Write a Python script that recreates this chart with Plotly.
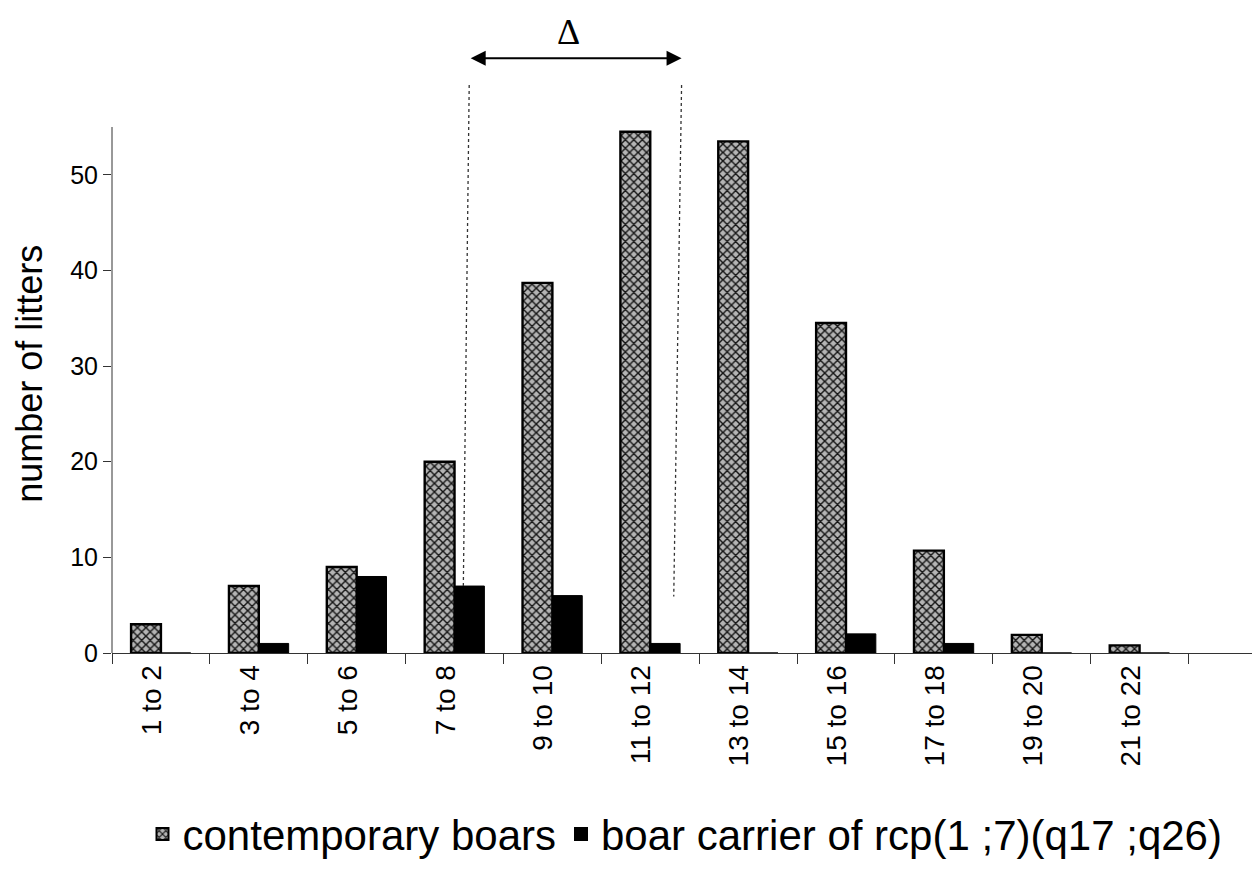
import plotly.graph_objects as go

categories = ["1 to 2", "3 to 4", "5 to 6", "7 to 8", "9 to 10", "11 to 12",
              "13 to 14", "15 to 16", "17 to 18", "19 to 20", "21 to 22"]
contemporary = [3, 7, 9, 20, 38.7, 54.5, 53.5, 34.5, 10.7, 1.9, 0.8]
carrier = [0, 1, 8, 7, 6, 1, 0, 2, 1, 0, 0]
y_ticks = [0, 10, 20, 30, 40, 50]

X_RANGE = [-0.5, 11.21]
Y_RANGE = [0, 55]

FONT = "Arial, Liberation Sans, sans-serif"

fig = go.Figure()
fig.add_trace(go.Bar(
    x=categories, y=contemporary, name="contemporary boars",
    marker=dict(color="#b0b0b0",
                line=dict(color="black", width=2.4),
                pattern=dict(shape="x", fgcolor="#151515", bgcolor="#b4b4b4",
                             size=6, solidity=0.42, fillmode="replace")),
))
fig.add_trace(go.Bar(
    x=categories, y=carrier, name="boar carrier of rcp(1 ;7)(q17 ;q26)",
    marker=dict(color="black", line=dict(color="black", width=1)),
))


def xp(v):
    return (v - X_RANGE[0]) / (X_RANGE[1] - X_RANGE[0])


def yp(v):
    return (v - Y_RANGE[0]) / (Y_RANGE[1] - Y_RANGE[0])


W, H = 1252, 862
ML, MR, MT, MB = 104, 2, 119, 217
plot_w = W - ML - MR
plot_h = H - MT - MB

# annotation geometry (category units / value units)
left_line = dict(x_top=3.15, x_bot=3.09, y_top=59.4, y_bot=7.0)
right_line = dict(x_top=5.32, x_bot=5.24, y_top=59.4, y_bot=5.9)
arrow_y = 62.2
title_y = 29.2  # vertical centre of the y-axis title, in value units

shapes = []
for ln in (left_line, right_line):
    shapes.append(dict(type="line", xref="paper", yref="paper",
                       x0=xp(ln["x_top"]), y0=yp(ln["y_top"]),
                       x1=xp(ln["x_bot"]), y1=yp(ln["y_bot"]),
                       line=dict(color="#333", width=1.3, dash="dot")))
# y axis line (stops at 55)
shapes.append(dict(type="line", xref="paper", yref="paper", x0=0, x1=0, y0=0, y1=1,
                   line=dict(color="#333", width=1)))

ax_px = -(xp(right_line["x_top"]) - xp(left_line["x_top"])) * plot_w

annotations = [
    dict(xref="paper", yref="paper", x=xp(right_line["x_top"]), y=yp(arrow_y),
         ax=ax_px, ay=0, axref="pixel", ayref="pixel", text="",
         showarrow=True, arrowhead=2, startarrowhead=2, arrowside="end+start",
         arrowsize=1.5, startarrowsize=1.5, arrowwidth=2, arrowcolor="black"),
    dict(xref="paper", yref="paper",
         x=(xp(right_line["x_top"]) + xp(left_line["x_top"])) / 2 - 0.006,
         y=yp(arrow_y), yshift=4, text="Δ", showarrow=False, yanchor="bottom",
         font=dict(family="Liberation Serif, Times New Roman, serif", size=36, color="black")),
    dict(xref="paper", yref="paper", x=0, xshift=-82, y=yp(title_y),
         text="number of litters", textangle=-90, showarrow=False,
         xanchor="center", yanchor="middle",
         font=dict(family=FONT, size=36, color="black")),
]

fig.update_layout(
    width=W, height=H,
    margin=dict(l=ML, r=MR, t=MT, b=MB, pad=0),
    paper_bgcolor="white", plot_bgcolor="white",
    barmode="group", bargap=0.39, bargroupgap=0,
    font=dict(family=FONT, color="black"),
    showlegend=True,
    legend=dict(orientation="h", x=0.5, xanchor="center", y=-0.28, yanchor="top",
                font=dict(family=FONT, size=42, color="black"),
                tracegroupgap=0, itemsizing="constant"),
    shapes=shapes, annotations=annotations,
)
fig.update_xaxes(
    type="category", range=X_RANGE, showline=True, linecolor="#333", linewidth=1,
    ticks="outside", tickson="boundaries", ticklen=10, tickcolor="#333",
    tickangle=-90, tickfont=dict(family=FONT, size=28, color="black"),
    ticklabelshift=-9,
    showgrid=False, zeroline=False,
)
fig.update_yaxes(
    range=Y_RANGE, tickvals=y_ticks, showline=False, ticks="outside", ticklen=8,
    tickcolor="#333", tickfont=dict(family=FONT, size=25, color="black"),
    showgrid=False, zeroline=False,
)

fig.write_html("out.html")
